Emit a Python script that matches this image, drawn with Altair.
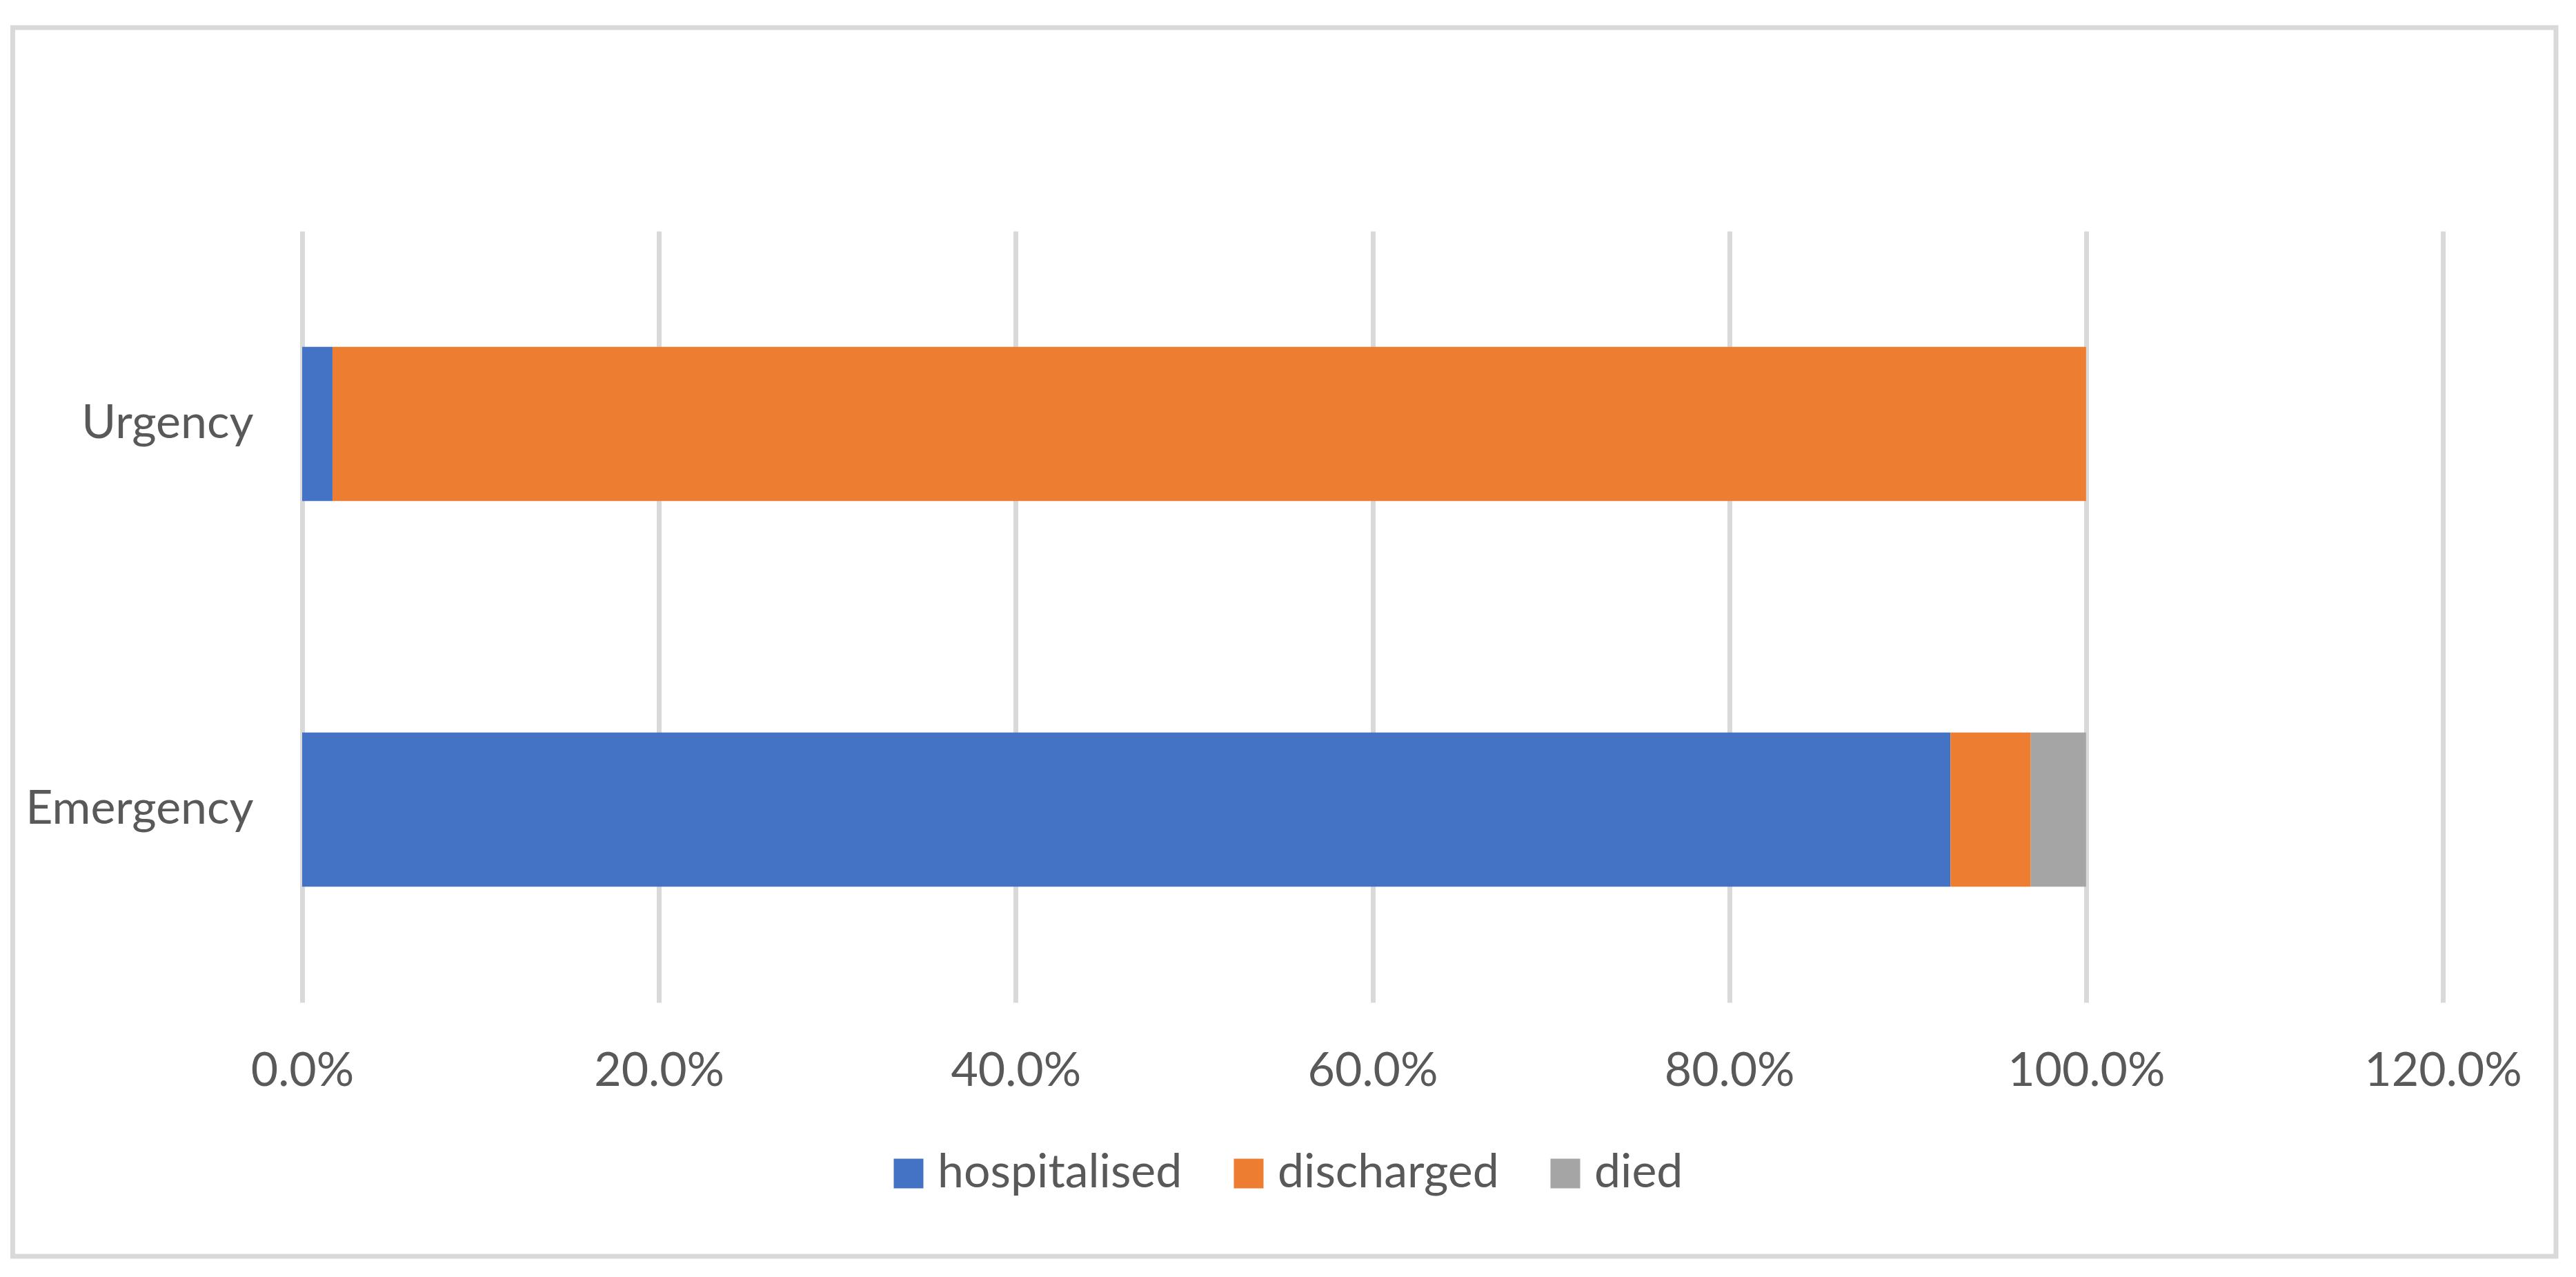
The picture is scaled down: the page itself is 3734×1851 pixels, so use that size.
import altair as alt
import pandas as pd

# ---- data ----
categories = ["Urgency", "Emergency"]
outcomes = ["hospitalised", "discharged", "died"]
urgency_values = [0.017, 0.983, 0.0]
emergency_values = [0.924, 0.045, 0.031]
x_ticks = [0.0, 0.2, 0.4, 0.6, 0.8, 1.0, 1.2]
colors = ["#4472C4", "#ED7D31", "#A5A5A5"]

rows = []
for cat, vals in zip(categories, [urgency_values, emergency_values]):
    for i, (o, v) in enumerate(zip(outcomes, vals)):
        rows.append({"category": cat, "outcome": o, "value": v, "order": i})
df = pd.DataFrame(rows)

FONT = "Lato"
TXT = "#595959"
GRID = "#D9D9D9"

W, H = 3103, 1118

bars = alt.Chart(df).mark_bar().encode(
    y=alt.Y("category:N", sort=categories,
            scale=alt.Scale(paddingInner=0.6, paddingOuter=0.3),
            axis=alt.Axis(title=None, domain=False, ticks=False, grid=False,
                          labelPadding=71, labelFontSize=68, labelColor=TXT,
                          labelFont=FONT, labelLimit=0)),
    x=alt.X("value:Q", stack="zero",
            scale=alt.Scale(domain=[0, 1.2], nice=False),
            axis=alt.Axis(title=None, values=x_ticks, format=".1%",
                          domain=False, ticks=False, grid=True,
                          gridColor=GRID, gridWidth=7,
                          labelPadding=66, labelFontSize=68, labelColor=TXT,
                          labelFont=FONT, labelFlush=False, labelLimit=0,
                          labelOverlap=False)),
    color=alt.Color("outcome:N", sort=outcomes,
                    scale=alt.Scale(domain=outcomes, range=colors),
                    legend=alt.Legend(title=None, orient="none",
                                      direction="horizontal",
                                      legendX=845, legendY=1332,
                                      symbolType="square", symbolSize=1850,
                                      symbolStrokeWidth=0,
                                      labelFontSize=68, labelColor=TXT,
                                      labelFont=FONT, labelOffset=8,
                                      labelLimit=0,
                                      columnPadding=62)),
    order=alt.Order("order:Q"),
)

border = alt.Chart(pd.DataFrame({"a": [0]})).mark_rect(
    fillOpacity=0, stroke=GRID, strokeWidth=7
).encode(
    x=alt.value(-419.5), x2=alt.value(3267),
    y=alt.value(-295), y2=alt.value(1486),
)

chart = alt.layer(bars, border).properties(
    width=W, height=H,
    autosize=alt.AutoSizeParams(type="none"),
    padding={"left": 430, "top": 327, "right": 185, "bottom": 390},
    background="white",
).configure_view(stroke=None)

chart.save("out.html", embed_options={"renderer": "svg", "actions": False})
